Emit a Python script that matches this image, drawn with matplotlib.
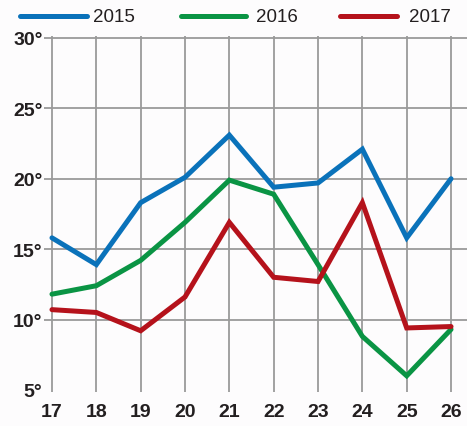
import matplotlib
matplotlib.use("Agg")
import matplotlib.pyplot as plt
from matplotlib.lines import Line2D

# data
days = [17, 18, 19, 20, 21, 22, 23, 24, 25, 26]
t2015 = [15.8, 13.9, 18.3, 20.1, 23.1, 19.4, 19.7, 22.1, 15.8, 20.0]
t2016 = [11.8, 12.4, 14.2, 16.9, 19.9, 18.9, 13.9, 8.8, 6.0, 9.3]
t2017 = [10.7, 10.5, 9.2, 11.6, 16.9, 13.0, 12.7, 18.3, 9.4, 9.5]
years = ['2015', '2016', '2017']
colors = ['#0a72ba', '#0a9444', '#b5121b']
yticks = [5, 10, 15, 20, 25, 30]

plt.rcParams['font.family'] = ['Liberation Sans', 'DejaVu Sans']

W, H = 467, 427
fig = plt.figure(figsize=(W / 100, H / 100), dpi=100, facecolor='#fdfcfd')
ax = fig.add_axes([44 / W, 1 - 393 / H, 1 - 44 / W, 356 / H])
ax.set_facecolor('#fdfcfd')

grid_c = '#9a9a9a'
for x in days:
    ax.axvline(x, color=grid_c, lw=1.3, zorder=1)
for y in yticks[1:]:
    ax.axhline(y, color=grid_c, lw=1.3, zorder=1)

lines = []
for vals, c, z in zip([t2015, t2016, t2017], colors, [3, 3, 4]):
    ln, = ax.plot(days, vals, color=c, lw=3.6, solid_capstyle='round',
                  solid_joinstyle='miter', zorder=z)
    lines.append(ln)

ax.set_xlim(16.82, 26.36)
ax.set_ylim(4.85, 30.14)
for s in ax.spines.values():
    s.set_visible(False)

ax.set_xticks(days)
ax.set_xticklabels([str(d) for d in days], fontsize=14, fontweight='bold', color='#231f20')
ax.set_yticks(yticks)
ax.set_yticklabels([f"{v}°" for v in yticks], fontsize=14, fontweight='bold', color='#231f20')
ax.tick_params(axis='both', length=0)
ax.tick_params(axis='x', pad=8)
ax.tick_params(axis='y', pad=1)

# legend drawn by hand at the top
leg_x = [(20, 87, 93), (181, 246, 256), (340, 397, 409)]
ly = 1 - 17 / H
for (x0, x1, xt), c, name in zip(leg_x, colors, years):
    fig.add_artist(Line2D([x0 / W, x1 / W], [ly, ly], color=c, lw=3.6,
                          solid_capstyle='round', transform=fig.transFigure))
    fig.text(xt / W, ly, name, fontsize=13.5, color='#231f20', va='center', ha='left')

fig.savefig('out.png', dpi=100, facecolor=fig.get_facecolor())
